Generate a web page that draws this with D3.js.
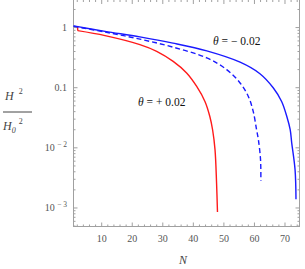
<!DOCTYPE html>
<html>
<head>
<meta charset="utf-8">
<script src="https://cdn.jsdelivr.net/npm/d3@7"></script>
<style>
  body { margin: 0; background: #fff; }
  text { font-family: "Liberation Serif", "DejaVu Serif", serif; }
</style>
</head>
<body>
<div id="chart"></div>
<script>
// series (N, H^2/H0^2)
var redN    = [2.1, 2.15, 11.1, 22.5, 28.0, 33.4, 37.8, 41.1, 43.8, 45.4, 46.3, 47.1, 47.6, 47.9];
var redH    = [1.05, 0.89, 0.736, 0.521, 0.403, 0.274, 0.176, 0.105, 0.0591, 0.0332, 0.020, 0.00926, 0.00261, 0.00086];
var blueN   = [0.8, 11.1, 22.5, 33.3, 44.4, 55.3, 61.8, 66.2, 68.9, 70.6, 71.7, 72.2, 73.3, 73.6];
var blueH   = [1.067, 0.865, 0.70, 0.552, 0.41, 0.266, 0.171, 0.0989, 0.0591, 0.0332, 0.020, 0.0121, 0.0043, 0.0014];
var dashN   = [0.8, 11.2, 22.5, 33.3, 44.4, 50.9, 55.3, 58.0, 59.6, 60.7, 61.3, 62.0, 62.1];
var dashH   = [1.05, 0.841, 0.643, 0.473, 0.313, 0.20, 0.12, 0.0716, 0.0403, 0.020, 0.0136, 0.0063, 0.00285];
var xTicks  = [10, 20, 30, 40, 50, 60, 70];
var yTicks  = [1, 0.1, 0.01, 0.001];

var width = 305, height = 269;
var pLeft = 73.5, pRight = 299.5, pTop = -0.5, pBottom = 226.5;

var svg = d3.select("#chart").append("svg")
  .attr("width", width)
  .attr("height", height);

var x = d3.scaleLinear().domain([0.77, 74.75]).range([pLeft, pRight]);
var y = d3.scaleLog().domain([4.92e-4, 2.93]).range([pBottom, pTop]);

// frame
svg.append("rect")
  .attr("x", pLeft).attr("y", pTop)
  .attr("width", pRight - pLeft).attr("height", pBottom - pTop)
  .attr("fill", "none").attr("stroke", "#a0a0a0").attr("stroke-width", 1);

var tickCol = "#a0a0a0";

// x ticks (bottom and top)
var xMinor = d3.range(2, 75, 2);
xMinor.forEach(function(v) {
  var major = v % 10 === 0;
  var len = major ? 4 : 2;
  svg.append("line").attr("x1", x(v)).attr("x2", x(v))
    .attr("y1", pBottom).attr("y2", pBottom - len).attr("stroke", tickCol);
  svg.append("line").attr("x1", x(v)).attr("x2", x(v))
    .attr("y1", 0).attr("y2", len).attr("stroke", tickCol);
});

// y ticks (left and right)
var yMinor = [];
[0.0001, 0.001, 0.01, 0.1, 1].forEach(function(d) {
  for (var k = 1; k < 10; k++) {
    var v = d * k;
    if (v >= 4.92e-4 && v <= 2.93) yMinor.push({v: v, major: k === 1});
  }
});
yMinor.forEach(function(t) {
  var len = t.major ? 4 : 2;
  svg.append("line").attr("x1", pLeft).attr("x2", pLeft + len)
    .attr("y1", y(t.v)).attr("y2", y(t.v)).attr("stroke", tickCol);
  svg.append("line").attr("x1", pRight).attr("x2", pRight - len)
    .attr("y1", y(t.v)).attr("y2", y(t.v)).attr("stroke", tickCol);
});

// x tick labels
svg.selectAll(".xl").data(xTicks).enter().append("text")
  .attr("x", function(d) { return x(d); })
  .attr("y", 242)
  .attr("text-anchor", "middle")
  .attr("font-size", 10)
  .attr("fill", "#555")
  .text(function(d) { return d; });

// y tick labels
yTicks.forEach(function(d) {
  var t = svg.append("text")
    .attr("x", 67).attr("y", y(d) + 3.5)
    .attr("text-anchor", "end")
    .attr("font-size", 10)
    .attr("fill", "#555");
  if (d >= 0.1) {
    t.text(d === 1 ? "1" : "0.1");
  } else {
    var e = Math.round(Math.log10(d));
    t.append("tspan").text("10 ");
    t.append("tspan").attr("font-size", 7.5).attr("dy", -4)
      .text("\u2212 " + Math.abs(e));
  }
});

// curves
var line = d3.line()
  .x(function(d) { return x(d[0]); })
  .y(function(d) { return y(d[1]); })
  .curve(d3.curveCatmullRom.alpha(0.5));

var straight = d3.line()
  .x(function(d) { return x(d[0]); })
  .y(function(d) { return y(d[1]); });

function pairs(a, b) { return a.map(function(v, i) { return [v, b[i]]; }); }

var red = pairs(redN, redH);
// little drop at the start of the red curve, then the smooth part
svg.append("path").datum(red.slice(0, 2))
  .attr("d", straight).attr("fill", "none")
  .attr("stroke", "#ff1a1a").attr("stroke-width", 1.4);
svg.append("path").datum(red.slice(1))
  .attr("d", line).attr("fill", "none")
  .attr("stroke", "#ff1a1a").attr("stroke-width", 1.4);

svg.append("path").datum(pairs(dashN, dashH))
  .attr("d", line).attr("fill", "none")
  .attr("stroke", "#1a1aff").attr("stroke-width", 1.4)
  .attr("stroke-dasharray", "5,3");

svg.append("path").datum(pairs(blueN, blueH))
  .attr("d", line).attr("fill", "none")
  .attr("stroke", "#1a1aff").attr("stroke-width", 1.4);

// annotations
var a1 = svg.append("text").attr("x", 213).attr("y", 45).attr("font-size", 11.5).attr("fill", "#111");
a1.append("tspan").attr("font-style", "italic").text("\u03b8");
a1.append("tspan").text(" = \u2212 0.02");

var a2 = svg.append("text").attr("x", 138).attr("y", 106).attr("font-size", 11.5).attr("fill", "#111");
a2.append("tspan").attr("font-style", "italic").text("\u03b8");
a2.append("tspan").text(" = + 0.02");

// axis labels
svg.append("text").attr("x", 183).attr("y", 264)
  .attr("text-anchor", "middle").attr("font-size", 12)
  .attr("font-style", "italic").attr("fill", "#444").text("N");

var yl = svg.append("g").attr("fill", "#444");
var num = yl.append("text").attr("x", 5).attr("y", 100).attr("font-size", 12);
num.append("tspan").attr("font-style", "italic").text("H");
num.append("tspan").attr("font-size", 8).attr("dx", 5).attr("dy", -6).text("2");
yl.append("line").attr("x1", 3).attr("x2", 32).attr("y1", 112).attr("y2", 112)
  .attr("stroke", "#444").attr("stroke-width", 1);
var den = yl.append("text").attr("x", 3).attr("y", 130).attr("font-size", 12);
den.append("tspan").attr("font-style", "italic").text("H");
den.append("tspan").attr("font-style", "italic").attr("font-size", 8).attr("dy", 3).text("0");
den.append("tspan").attr("font-size", 8).attr("dx", 3).attr("dy", -9).text("2");
</script>
</body>
</html>
